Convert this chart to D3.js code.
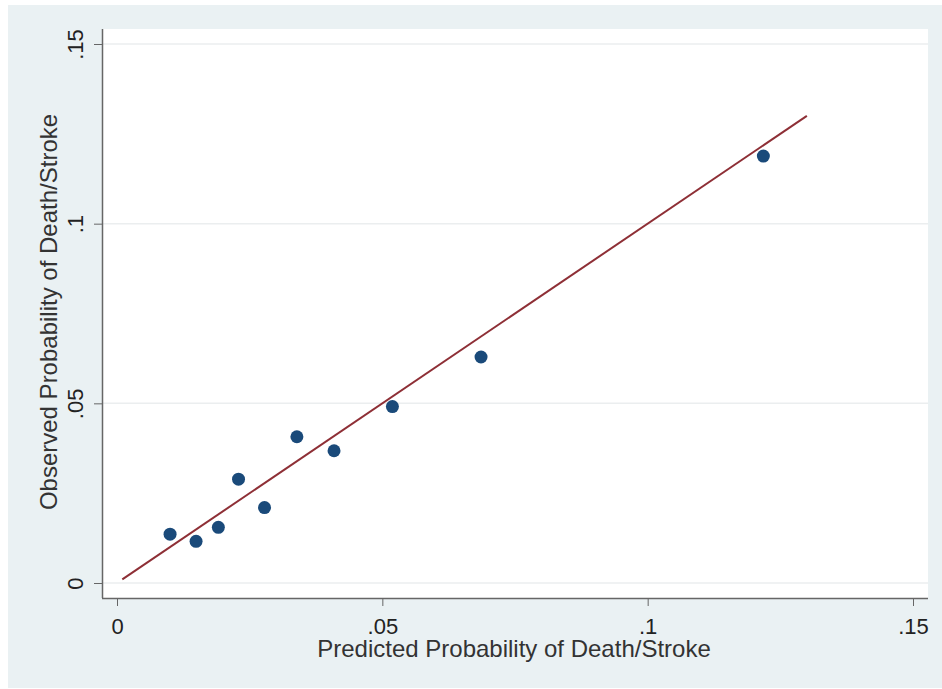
<!DOCTYPE html>
<html>
<head>
<meta charset="utf-8">
<script src="https://cdn.jsdelivr.net/npm/d3@7"></script>
<style>
  html, body { margin: 0; padding: 0; background: #fff; }
  svg { display: block; font-family: "Liberation Sans", Arial, sans-serif; }
</style>
</head>
<body>
<svg id="chart" width="942" height="689"></svg>
<script>
// calibration points (predicted vs observed)
const predicted = [0.0100, 0.0149, 0.0191, 0.0229, 0.0278, 0.0339, 0.0409, 0.0519, 0.0686, 0.1218];
const observed  = [0.0136, 0.0116, 0.0155, 0.0289, 0.0210, 0.0407, 0.0368, 0.0491, 0.0629, 0.1188];
// reference line y = x
const lineX = [0.001, 0.13];
const ticks = [0, 0.05, 0.1, 0.15];
const tickLabels = ["0", ".05", ".1", ".15"];

const svg = d3.select("#chart");

// outer graph region
svg.append("rect")
  .attr("x", 8).attr("y", 5)
  .attr("width", 934).attr("height", 683)
  .attr("fill", "#eaf1f3");

// plot region
const plot = { left: 102, top: 29, right: 928, bottom: 598 };
svg.append("rect")
  .attr("x", plot.left).attr("y", plot.top)
  .attr("width", plot.right - plot.left).attr("height", plot.bottom - plot.top)
  .attr("fill", "#fff");

const x = d3.scaleLinear().domain([0, 0.15]).range([117, 913]);
const y = d3.scaleLinear().domain([0, 0.15]).range([583, 44]);

// gridlines
svg.append("g")
  .selectAll("line")
  .data(ticks)
  .join("line")
  .attr("x1", plot.left + 1).attr("x2", plot.right)
  .attr("y1", (d) => y(d)).attr("y2", (d) => y(d))
  .attr("stroke", "#ebeeef")
  .attr("stroke-width", 1.5);

// y axis
const yAxis = svg.append("g")
  .attr("transform", `translate(${plot.left},0)`)
  .call(d3.axisLeft(y).tickValues(ticks).tickSize(8).tickFormat((d, i) => tickLabels[i]));
yAxis.select(".domain").attr("d", `M0.5,${plot.top}V${plot.bottom}`);
yAxis.selectAll("line").attr("stroke", "#666");
yAxis.select(".domain").attr("stroke", "#666").attr("stroke-width", 1.5);
yAxis.selectAll("text")
  .attr("x", null).attr("dy", null)
  .attr("transform", "translate(-19,0) rotate(-90)")
  .attr("text-anchor", "middle")
  .attr("font-size", 22)
  .attr("fill", "#222");

// x axis
const xAxis = svg.append("g")
  .attr("transform", `translate(0,${plot.bottom})`)
  .call(d3.axisBottom(x).tickValues(ticks).tickSize(8).tickFormat((d, i) => tickLabels[i]));
xAxis.select(".domain").attr("d", `M${plot.left},0.5H${plot.right}`);
xAxis.selectAll("line").attr("stroke", "#666");
xAxis.select(".domain").attr("stroke", "#666").attr("stroke-width", 1.5);
xAxis.selectAll("text")
  .attr("y", 36).attr("dy", null)
  .attr("font-size", 22)
  .attr("fill", "#222");

// axis titles
svg.append("text")
  .attr("x", 514).attr("y", 657)
  .attr("text-anchor", "middle")
  .attr("font-size", 24)
  .attr("fill", "#333")
  .text("Predicted Probability of Death/Stroke");

svg.append("text")
  .attr("transform", "translate(57,312) rotate(-90)")
  .attr("text-anchor", "middle")
  .attr("font-size", 24)
  .attr("fill", "#333")
  .text("Observed Probability of Death/Stroke");

// y = x line
svg.append("line")
  .attr("x1", x(lineX[0])).attr("y1", y(lineX[0]))
  .attr("x2", x(lineX[1])).attr("y2", y(lineX[1]))
  .attr("stroke", "#8e2f36")
  .attr("stroke-width", 2);

// points
svg.append("g")
  .selectAll("circle")
  .data(predicted.map((p, i) => [p, observed[i]]))
  .join("circle")
  .attr("cx", (d) => x(d[0]))
  .attr("cy", (d) => y(d[1]))
  .attr("r", 6.5)
  .attr("fill", "#1a4a7a");
</script>
</body>
</html>
